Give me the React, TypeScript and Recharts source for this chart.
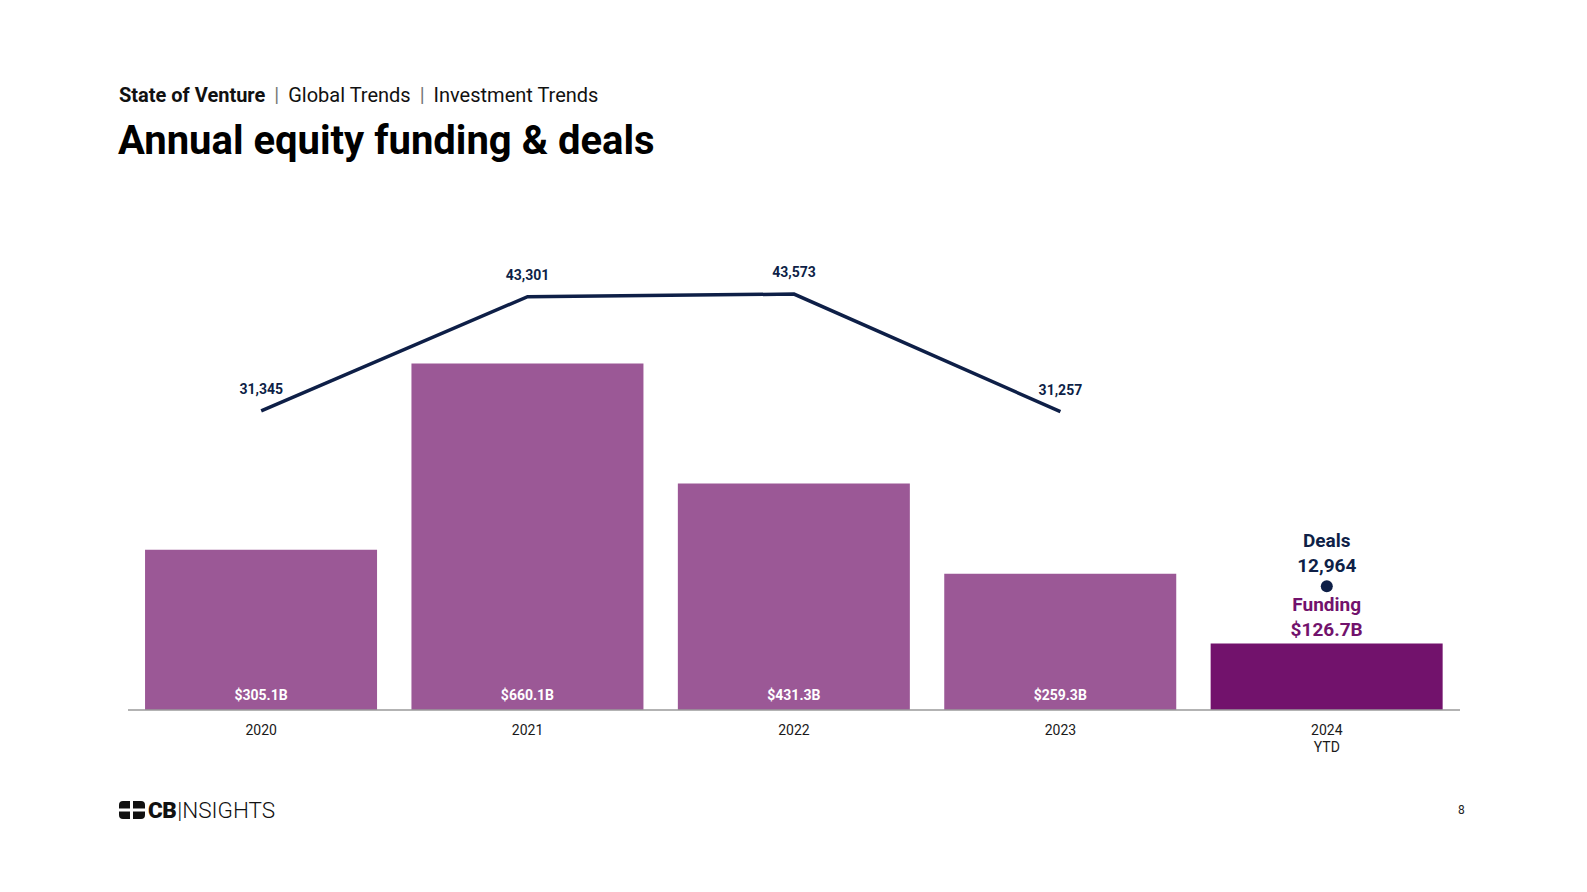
import React from 'react';
import { ComposedChart, Bar, Line, XAxis, YAxis, Cell, LabelList } from 'recharts';

const years = ['2020', '2021', '2022', '2023', '2024'];
const fundingB = [305.1, 660.1, 431.3, 259.3, 126.7];
const deals = [31345, 43301, 43573, 31257, null];
const ytdDeals = [null, null, null, null, 12964];

const NAVY = '#0e1f47';
const BAR = '#9b5896';
const BAR_YTD = '#72126c';
const FONT = 'Roboto, "Noto Sans", sans-serif';

const data = years.map((y, i) => ({
  year: y,
  funding: fundingB[i],
  deals: deals[i],
  ytd: ytdDeals[i],
}));

const fmt = (n: number) => n.toLocaleString('en-US');

const FundingLabel = (props: any) => {
  const { x, y, width, height, value, index } = props;
  const cx = x + width / 2;
  if (index === years.length - 1) {
    return (
      <g fontFamily={FONT} fontWeight={700} fontSize={19} fill={BAR_YTD} textAnchor="middle">
        <text x={cx} y={y - 39} dominantBaseline="central">Funding</text>
        <text x={cx} y={y - 14} dominantBaseline="central">{`$${value.toFixed(1)}B`}</text>
      </g>
    );
  }
  return (
    <text x={cx} y={y + height - 15} textAnchor="middle" dominantBaseline="central"
      fontFamily={FONT} fontWeight={700} fontSize={14} fill="#ffffff">
      {`$${value.toFixed(1)}B`}
    </text>
  );
};

const DealsLabel = (props: any) => {
  const { x, y, value } = props;
  if (value == null) return null;
  return (
    <text x={x} y={y - 22} textAnchor="middle" dominantBaseline="central"
      fontFamily={FONT} fontWeight={700} fontSize={14} fill={NAVY}>
      {fmt(value)}
    </text>
  );
};

const YtdLabel = (props: any) => {
  const { x, y, value } = props;
  if (value == null) return null;
  return (
    <g fontFamily={FONT} fontWeight={700} fontSize={19} fill={NAVY} textAnchor="middle">
      <text x={x} y={y - 46} dominantBaseline="central">Deals</text>
      <text x={x} y={y - 21} dominantBaseline="central">{fmt(value)}</text>
    </g>
  );
};

const YearTick = (props: any) => {
  const { x, y, payload } = props;
  const last = payload.value === years[years.length - 1];
  return (
    <g fontFamily={FONT} fontSize={14} fill="#1a1a1a" textAnchor="middle">
      <text x={x} y={y + 12} dominantBaseline="central">{payload.value}</text>
      {last && <text x={x} y={y + 29} dominantBaseline="central">YTD</text>}
    </g>
  );
};

const Logo = () => (
  <div style={{ position: 'absolute', left: 119, top: 797, display: 'flex', alignItems: 'center', fontFamily: FONT, color: '#111' }}>
    <svg width={26} height={18} viewBox="0 0 26 18">
      <rect x={0} y={0} width={26} height={18} rx={4} fill="#111" />
      <rect x={11} y={0} width={3} height={18} fill="#fff" />
      <rect x={0} y={7.5} width={26} height={3} fill="#fff" />
    </svg>
    <span style={{ fontWeight: 900, fontSize: 22.5, marginLeft: 3, letterSpacing: -0.5 }}>CB</span>
    <span style={{ fontWeight: 300, fontSize: 22.5, marginLeft: 1 }}>|NSIGHTS</span>
  </div>
);

export default function App() {
  return (
    <div style={{ position: 'absolute', left: 0, top: 0, width: 1587, height: 892, background: '#fff', overflow: 'hidden' }}>
      <div style={{ position: 'absolute', left: 119, top: 83, fontFamily: FONT, fontSize: 20, color: '#111', whiteSpace: 'nowrap' }}>
        <span style={{ fontWeight: 700 }}>State of Venture</span>
        <span style={{ color: '#777', margin: '0 9px' }}>|</span>
        <span>Global Trends</span>
        <span style={{ color: '#777', margin: '0 9px' }}>|</span>
        <span>Investment Trends</span>
      </div>
      <div style={{ position: 'absolute', left: 118, top: 117, fontFamily: FONT, fontSize: 40, fontWeight: 700, color: '#000', whiteSpace: 'nowrap' }}>
        Annual equity funding &amp; deals
      </div>
      <div style={{ position: 'absolute', left: 0, top: 0 }}>
        <ComposedChart width={1587} height={892} data={data}
          margin={{ top: 290, right: 127, left: 128, bottom: 142 }}
          barCategoryGap="6.4%">
          <XAxis dataKey="year" height={40} tickLine={false} tick={<YearTick />}
            axisLine={{ stroke: '#9a9a9a', strokeWidth: 1.5 }} interval={0} />
          <YAxis yAxisId="f" domain={[0, 800]} hide />
          <YAxis yAxisId="d" domain={[0, 44000]} hide />
          <Bar yAxisId="f" dataKey="funding" isAnimationActive={false}>
            {data.map((d, i) => (
              <Cell key={d.year} fill={i === years.length - 1 ? BAR_YTD : BAR} />
            ))}
            <LabelList dataKey="funding" content={<FundingLabel />} />
          </Bar>
          <Line yAxisId="d" dataKey="deals" type="linear" stroke={NAVY} strokeWidth={3.5}
            dot={false} activeDot={false} connectNulls={false} isAnimationActive={false}>
            <LabelList dataKey="deals" content={<DealsLabel />} />
          </Line>
          <Line yAxisId="d" dataKey="ytd" stroke="none" isAnimationActive={false}
            dot={{ r: 6, fill: NAVY, stroke: 'none' }} activeDot={false}>
            <LabelList dataKey="ytd" content={<YtdLabel />} />
          </Line>
        </ComposedChart>
      </div>
      <Logo />
      <div style={{ position: 'absolute', left: 1458, top: 803, fontFamily: FONT, fontSize: 12, color: '#222' }}>8</div>
    </div>
  );
}
